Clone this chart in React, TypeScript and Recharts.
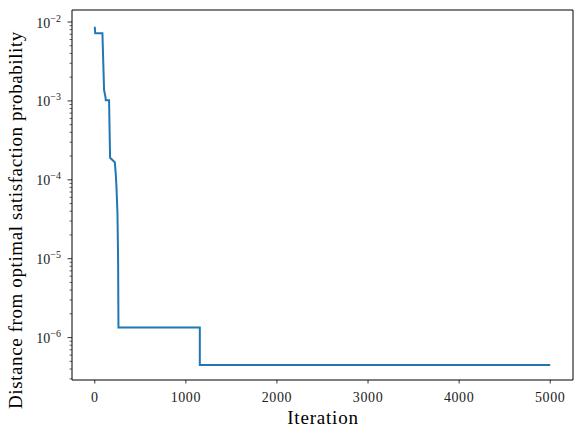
import React from 'react';
import { LineChart, Line, XAxis, YAxis, ReferenceArea } from 'recharts';

// values
const iterations = [0, 5, 84, 102, 117, 121, 157, 163, 168, 220, 230, 238, 249, 256, 260, 1153, 1153, 5000];
const distances = [
  8.7e-3, 7.2e-3, 7.2e-3, 1.38e-3, 1.13e-3, 1.02e-3, 1.02e-3, 4.0e-4, 1.9e-4, 1.67e-4,
  1.2e-4, 8.2e-5, 3.8e-5, 1.0e-5, 1.34e-6, 1.34e-6, 4.48e-7, 4.48e-7,
];
const xTicks = [0, 1000, 2000, 3000, 4000, 5000];
const xDomain: [number, number] = [-250, 5250];
const yDomain: [number, number] = [2.9e-7, 1.42e-2];
const yDecades = [-7, -6, -5, -4, -3, -2];

const FONT = '"Liberation Serif", "DejaVu Serif", serif';

const data = iterations.map((it, i) => ({ iteration: it, distance: distances[i] }));

// major + minor ticks of the log axis that fall inside the domain
const yTicks: number[] = [];
yDecades.forEach((e) => {
  for (let m = 1; m <= 9; m++) {
    const v = m * Math.pow(10, e);
    if (v >= yDomain[0] && v <= yDomain[1]) yTicks.push(v);
  }
});

const XTick = (props: any) => {
  const { x, y, payload } = props;
  return (
    <g>
      <line x1={x} x2={x} y1={y} y2={y + 3.5} stroke="#000" strokeWidth={0.8} />
      <text x={x} y={y + 22} textAnchor="middle" fontSize={14} fontFamily={FONT} fill="#222" letterSpacing={0.6}>
        {payload.value}
      </text>
    </g>
  );
};

const YTick = (props: any) => {
  const { x, y, payload } = props;
  const lg = Math.log10(payload.value);
  const exp = Math.round(lg);
  const major = Math.abs(lg - exp) < 1e-6;
  return (
    <g>
      <line x1={x} x2={x - (major ? 4.5 : 2.5)} y1={y} y2={y} stroke="#000" strokeWidth={major ? 0.8 : 0.6} />
      {major && (
        <text x={x - 11} y={y + 5.5} textAnchor="end" fontSize={14} fontFamily={FONT} fill="#222">
          <tspan>10</tspan>
          <tspan dy={-6} fontSize={10}>{'\u2212' + Math.abs(exp)}</tspan>
        </text>
      )}
    </g>
  );
};

export default function App() {
  return (
    <div style={{ position: 'absolute', left: 0, top: 0, width: 582, height: 435, background: '#fff' }}>
      <LineChart width={582} height={435} data={data} margin={{ top: 10, right: 9, left: 0, bottom: 0 }}>
        <XAxis
          dataKey="iteration"
          type="number"
          domain={xDomain}
          ticks={xTicks}
          interval={0}
          allowDataOverflow
          height={55}
          tickSize={0}
          tickMargin={0}
          tickLine={false}
          axisLine={false}
          tick={<XTick />}
        />
        <YAxis
          dataKey="distance"
          scale="log"
          type="number"
          domain={yDomain}
          ticks={yTicks}
          interval={0}
          allowDataOverflow
          width={72}
          tickSize={0}
          tickMargin={0}
          tickLine={false}
          axisLine={false}
          tick={<YTick />}
        />
        <ReferenceArea
          x1={xDomain[0]}
          x2={xDomain[1]}
          y1={yDomain[0]}
          y2={yDomain[1]}
          fill="none"
          fillOpacity={0}
          stroke="#000"
          strokeWidth={1}
          ifOverflow="visible"
        />
        <Line
          type="linear"
          dataKey="distance"
          stroke="#1f77b4"
          strokeWidth={2}
          dot={false}
          isAnimationActive={false}
        />
        <text x={323} y={424} textAnchor="middle" fontSize={19} fontFamily={FONT} fill="#000" letterSpacing={0.8}>
          Iteration
        </text>
        <text
          x={22}
          y={220}
          transform="rotate(-90 22 220)"
          textAnchor="middle"
          fontSize={19}
          fontFamily={FONT}
          fill="#000"
          letterSpacing={0.6}
        >
          Distance from optimal satisfaction probability
        </text>
      </LineChart>
    </div>
  );
}
